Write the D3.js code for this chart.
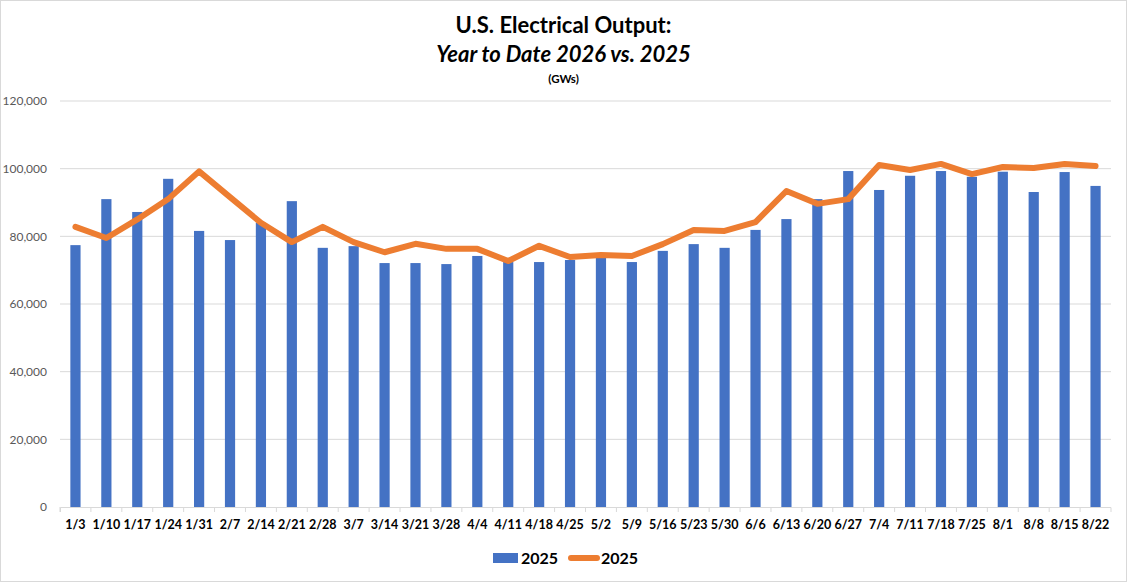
<!DOCTYPE html>
<html>
<head>
<meta charset="utf-8">
<script src="https://cdn.jsdelivr.net/npm/d3@7"></script>
<style>
  body { margin: 0; background: #fff; }
  svg { display: block; }
  text { font-family: Lato, "Open Sans", Arial, sans-serif; }
</style>
</head>
<body>
<svg width="1127" height="582"></svg>
<script>
const weeks = ['1/3', '1/10', '1/17', '1/24', '1/31', '2/7', '2/14', '2/21', '2/28', '3/7',
  '3/14', '3/21', '3/28', '4/4', '4/11', '4/18', '4/25', '5/2', '5/9', '5/16', '5/23',
  '5/30', '6/6', '6/13', '6/20', '6/27', '7/4', '7/11', '7/18', '7/25', '8/1', '8/8',
  '8/15', '8/22'];

// blue bars
const barValues = [77400, 91000, 87200, 97000, 81600, 78900, 84000, 90400, 76600, 77100,
  72100, 72100, 71800, 74200, 72400, 72400, 73000, 73600, 72400, 75700, 77700,
  76600, 81900, 85100, 91000, 99300, 93700, 97900, 99300, 97600, 99100, 93100,
  99000, 94900];

// orange line
const lineValues = [82800, 79500, 85000, 91000, 99200, 91600, 84000, 78300, 82800, 78300,
  75300, 77800, 76300, 76300, 72700, 77200, 73900, 74500, 74200, 77700, 81900,
  81600, 84200, 93400, 89600, 91000, 101100, 99600, 101400, 98400, 100500, 100200,
  101400, 100800];

const yTicks = [0, 20000, 40000, 60000, 80000, 100000, 120000];
const seriesNames = ['2025', '2025'];

const width = 1127;
const height = 582;
const margin = { top: 101, right: 16, bottom: 75, left: 60 };
const graphWidth = width - margin.left - margin.right;
const graphHeight = height - margin.top - margin.bottom;

const svg = d3.select('svg');

svg.append('rect')
  .attr('x', 0.5).attr('y', 0.5)
  .attr('width', width - 1).attr('height', height - 1)
  .attr('fill', '#fff')
  .attr('stroke', '#d9d9d9');

const xScale = d3.scaleBand()
  .domain(weeks)
  .range([0, graphWidth])
  .paddingInner(0.67)
  .paddingOuter(0.335);

const xBand = d3.scaleBand().domain(weeks).range([0, graphWidth]);

const yScale = d3.scaleLinear()
  .domain([0, 120000])
  .range([graphHeight, 0]);

const graph = svg.append('g')
  .attr('transform', `translate(${margin.left}, ${margin.top})`);

// gridlines
graph.append('g')
  .selectAll('line')
  .data(yTicks.slice(1))
  .enter()
  .append('line')
  .attr('x1', 0)
  .attr('x2', graphWidth)
  .attr('y1', d => yScale(d))
  .attr('y2', d => yScale(d))
  .attr('stroke', '#d9d9d9')
  .attr('stroke-width', 1);

const yAxis = d3.axisLeft(yScale)
  .tickValues(yTicks)
  .tickFormat(d3.format(','))
  .tickSize(0)
  .tickPadding(13);
const yG = graph.append('g').call(yAxis);
yG.select('.domain').remove();
yG.selectAll('text')
  .attr('fill', '#595959')
  .style('font-size', '12px')
  .style('font-family', 'Lato, sans-serif');

graph.selectAll('rect.bar')
  .data(barValues)
  .enter()
  .append('rect')
  .attr('class', 'bar')
  .attr('x', (d, i) => xScale(weeks[i]))
  .attr('y', d => yScale(d))
  .attr('width', xScale.bandwidth())
  .attr('height', d => graphHeight - yScale(d))
  .attr('fill', '#4472C4');

const xAxis = d3.axisBottom(xBand).tickSize(5).tickPadding(8);
const xG = graph.append('g')
  .attr('transform', `translate(0, ${graphHeight})`)
  .call(xAxis);
xG.select('.domain').attr('stroke', '#d9d9d9').attr('d', `M0.5,5V0.5H${graphWidth}V5`);
xG.selectAll('.tick line')
  .attr('stroke', '#d9d9d9')
  .attr('transform', `translate(${-xBand.bandwidth() / 2}, 0)`);
xG.selectAll('text')
  .attr('fill', '#000')
  .style('font-family', 'Lato, sans-serif')
  .style('font-size', '12.5px')
  .style('font-weight', 'bold');

const line = d3.line()
  .x((d, i) => xBand(weeks[i]) + xBand.bandwidth() / 2)
  .y(d => yScale(d));

graph.append('path')
  .datum(lineValues)
  .attr('d', line)
  .attr('fill', 'none')
  .attr('stroke', '#ED7D31')
  .attr('stroke-width', 6)
  .attr('stroke-linejoin', 'round')
  .attr('stroke-linecap', 'round');

// titles
svg.append('text')
  .text('U.S. Electrical Output:')
  .attr('x', width / 2)
  .attr('y', 33)
  .attr('text-anchor', 'middle')
  .style('font-size', '22px')
  .style('font-weight', 'bold');

svg.append('text')
  .text('Year to Date 2026 vs. 2025')
  .attr('x', width / 2)
  .attr('y', 62)
  .attr('text-anchor', 'middle')
  .style('font-size', '22px')
  .style('font-weight', 'bold')
  .style('font-style', 'italic');

svg.append('text')
  .text('(GWs)')
  .attr('x', width / 2)
  .attr('y', 83)
  .attr('text-anchor', 'middle')
  .style('font-size', '11.5px')
  .style('font-weight', 'bold');

// legend
const legend = svg.append('g').attr('transform', 'translate(493, 558)');
legend.append('rect')
  .attr('x', 0).attr('y', -5)
  .attr('width', 25).attr('height', 10)
  .attr('fill', '#4472C4');
legend.append('text')
  .text(seriesNames[0])
  .attr('x', 28).attr('y', 6)
  .style('font-size', '16px')
  .style('font-weight', 'bold');
legend.append('line')
  .attr('x1', 78).attr('x2', 104)
  .attr('y1', 0).attr('y2', 0)
  .attr('stroke', '#ED7D31')
  .attr('stroke-width', 6)
  .attr('stroke-linecap', 'round');
legend.append('text')
  .text(seriesNames[1])
  .attr('x', 108).attr('y', 6)
  .style('font-size', '16px')
  .style('font-weight', 'bold');
</script>
</body>
</html>
